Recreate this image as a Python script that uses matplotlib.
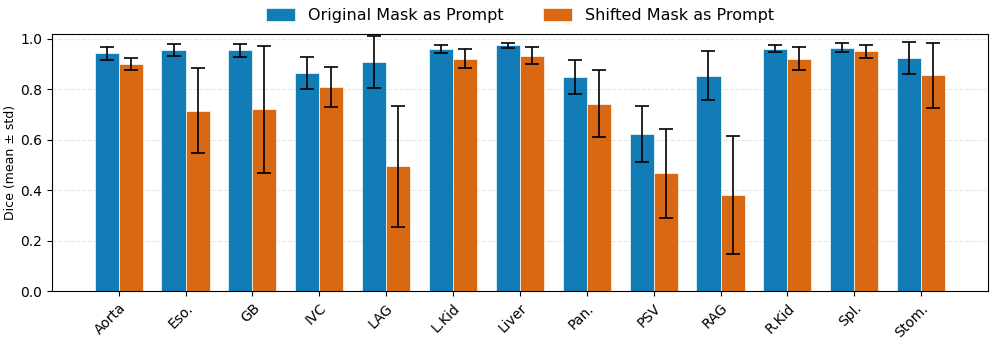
import numpy as np
import matplotlib.pyplot as plt

organs = ["Aorta", "Eso.", "GB", "IVC", "LAG", "L.Kid", "Liver",
          "Pan.", "PSV", "RAG", "R.Kid", "Spl.", "Stom."]

orig_mean = [0.941, 0.954, 0.953, 0.865, 0.908, 0.958, 0.973,
             0.848, 0.623, 0.853, 0.960, 0.964, 0.922]
orig_std = [0.027, 0.024, 0.025, 0.063, 0.103, 0.015, 0.011,
            0.066, 0.110, 0.096, 0.013, 0.019, 0.064]

shift_mean = [0.899, 0.714, 0.720, 0.808, 0.495, 0.920, 0.932,
              0.743, 0.467, 0.381, 0.920, 0.949, 0.855]
shift_std = [0.023, 0.168, 0.252, 0.079, 0.240, 0.038, 0.033,
             0.133, 0.176, 0.233, 0.046, 0.026, 0.128]

x = np.arange(len(organs))
w = 0.36

fig, ax = plt.subplots(figsize=(9.96, 3.42), dpi=100)
err_kw = dict(ecolor="black", elinewidth=1.2, capthick=1.2)
ax.bar(x - w / 2, orig_mean, w, yerr=orig_std, capsize=5, color="#0072B2",
       alpha=0.93, edgecolor="white", linewidth=0.5, error_kw=err_kw,
       label="Original Mask as Prompt")
ax.bar(x + w / 2, shift_mean, w, yerr=shift_std, capsize=5, color="#D55E00",
       alpha=0.93, edgecolor="white", linewidth=0.5, error_kw=err_kw,
       label="Shifted Mask as Prompt")

ax.set_xticks(x)
ax.set_xticklabels(organs, rotation=45, ha="right", rotation_mode="anchor")
ax.set_xlim(-1, len(organs))
ax.set_ylim(0, 1.02)
ax.set_ylabel("Dice (mean ± std)", fontsize=9, labelpad=2)
ax.yaxis.grid(True, linestyle="--", alpha=0.3)
ax.set_axisbelow(True)
ax.legend(loc="lower center", bbox_to_anchor=(0.5, 0.985), ncol=2,
          frameon=False, fontsize=11.5, columnspacing=2.5,
          handlelength=1.8, handleheight=0.8)

fig.subplots_adjust(left=0.052, right=0.992, top=0.902, bottom=0.148)
fig.savefig("out.png", dpi=100)
